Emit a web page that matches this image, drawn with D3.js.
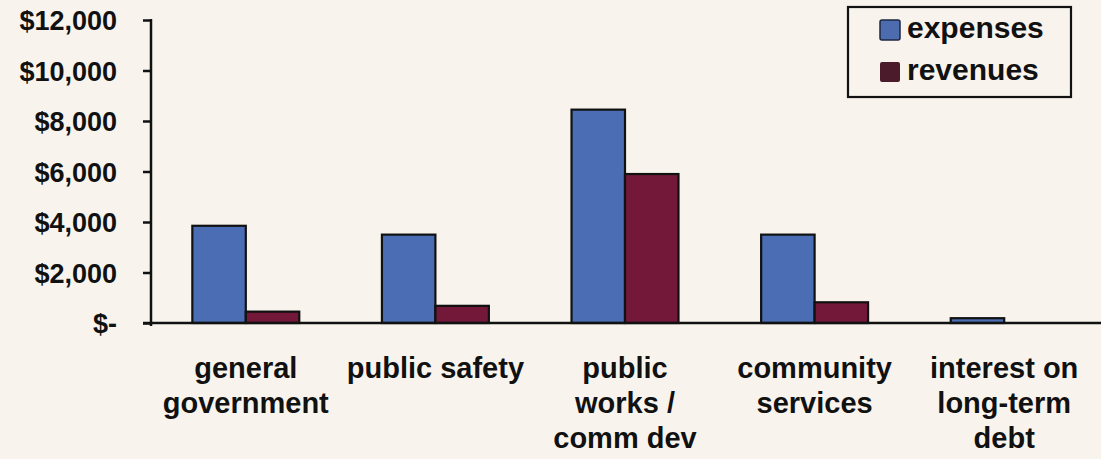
<!DOCTYPE html>
<html>
<head>
<meta charset="utf-8">
<script src="https://cdnjs.cloudflare.com/ajax/libs/d3/7.8.5/d3.min.js"></script>
<style>
  html, body { margin: 0; padding: 0; background: #f8f4ed; }
  svg { display: block; }
  text { font-family: "Liberation Sans", Arial, sans-serif; font-weight: bold; fill: #111; }
</style>
</head>
<body>
<svg id="chart" width="1101" height="459"></svg>
<script>
// chart values
var categories = ["general government", "public safety", "public works / comm dev",
                  "community services", "interest on long-term debt"];
var categoryLines = [["general", "government"], ["public safety"], ["public", "works /", "comm dev"],
                     ["community", "services"], ["interest on", "long-term", "debt"]];
var seriesNames = ["expenses", "revenues"];
var expenses = [3850, 3500, 8450, 3500, 190];
var revenues = [450, 680, 5900, 820, 0];
var yTicks = [0, 2000, 4000, 6000, 8000, 10000, 12000];

var W = 1101, H = 459;
var margin = {left: 151, right: 2, top: 20, bottom: 136};
var svg = d3.select("#chart");

var x0 = d3.scaleBand()
    .domain(categories)
    .range([margin.left, W - margin.right])
    .paddingInner(0.436)
    .paddingOuter(0.218);

var x1 = d3.scaleBand()
    .domain(seriesNames)
    .range([0, x0.bandwidth()])
    .padding(0);

var y = d3.scaleLinear()
    .domain([0, 12000])
    .range([H - margin.bottom, margin.top]);

var colour = {expenses: "#4a6db4", revenues: "#731838"};
var swatch = {expenses: "#4c6caf", revenues: "#4b1b2b"};

var rows = categories.map(function (c, i) {
    return {cat: c, values: [
        {key: "expenses", value: expenses[i]},
        {key: "revenues", value: revenues[i]}
    ]};
});

// bars
var groups = svg.append("g").selectAll("g")
    .data(rows)
    .enter().append("g")
    .attr("transform", function (d) { return "translate(" + x0(d.cat) + ",0)"; });

groups.selectAll("rect")
    .data(function (d) { return d.values.filter(function (v) { return v.value > 0; }); })
    .enter().append("rect")
    .attr("x", function (d) { return x1(d.key); })
    .attr("y", function (d) { return y(d.value); })
    .attr("width", x1.bandwidth())
    .attr("height", function (d) { return y(0) - y(d.value); })
    .style("fill", function (d) { return colour[d.key]; })
    .style("stroke", "#111")
    .style("stroke-width", 2.2);

// y axis
var yAxis = d3.axisLeft(y)
    .tickValues(yTicks)
    .tickSize(8)
    .tickPadding(26)
    .tickFormat(function (d) { return d === 0 ? "$-" : "$" + d3.format(",")(d); });

var ya = svg.append("g")
    .attr("transform", "translate(" + margin.left + ",0)")
    .call(yAxis);
ya.select(".domain").remove();
ya.selectAll(".tick line").style("stroke", "#111").style("stroke-width", 2.5);
ya.selectAll(".tick text")
    .attr("dy", "0.36em")
    .style("font-size", "27px")
    .style("font-family", "'Liberation Sans', Arial, sans-serif")
    .style("font-weight", "bold")
    .style("fill", "#111");

svg.append("line")
    .attr("x1", margin.left).attr("x2", margin.left)
    .attr("y1", y(12000) - 1).attr("y2", y(0) + 3)
    .style("stroke", "#111").style("stroke-width", 2.5);

// x axis baseline, no ticks
svg.append("line")
    .attr("x1", margin.left - 8).attr("x2", W)
    .attr("y1", y(0)).attr("y2", y(0))
    .style("stroke", "#111").style("stroke-width", 2.5);

// category labels
var labels = svg.append("g").selectAll("text")
    .data(categories)
    .enter().append("text")
    .attr("text-anchor", "middle")
    .attr("x", function (d) { return x0(d) + x0.bandwidth() / 2; })
    .attr("y", 378)
    .style("font-size", "29px");

labels.selectAll("tspan")
    .data(function (d, i) { return categoryLines[i]; })
    .enter().append("tspan")
    .attr("x", function () { return d3.select(this.parentNode).attr("x"); })
    .attr("dy", function (d, i) { return i === 0 ? 0 : 35; })
    .text(function (d) { return d; });

// legend
var legend = svg.append("g");
legend.append("rect")
    .attr("x", 848).attr("y", 7)
    .attr("width", 223).attr("height", 90)
    .style("fill", "none")
    .style("stroke", "#111")
    .style("stroke-width", 2.2);

var items = legend.selectAll("g.item")
    .data(seriesNames)
    .enter().append("g")
    .attr("class", "item")
    .attr("transform", function (d, i) { return "translate(880," + (20 + i * 42) + ")"; });

items.append("rect")
    .attr("width", 20).attr("height", 20)
    .attr("rx", 2)
    .style("fill", function (d) { return swatch[d]; })
    .style("stroke", function (d) { return d === "expenses" ? "#1c2740" : "none"; })
    .style("stroke-width", 1.5);

items.append("text")
    .attr("x", 27)
    .attr("y", 18)
    .style("font-size", "30px")
    .text(function (d) { return d; });
</script>
</body>
</html>
